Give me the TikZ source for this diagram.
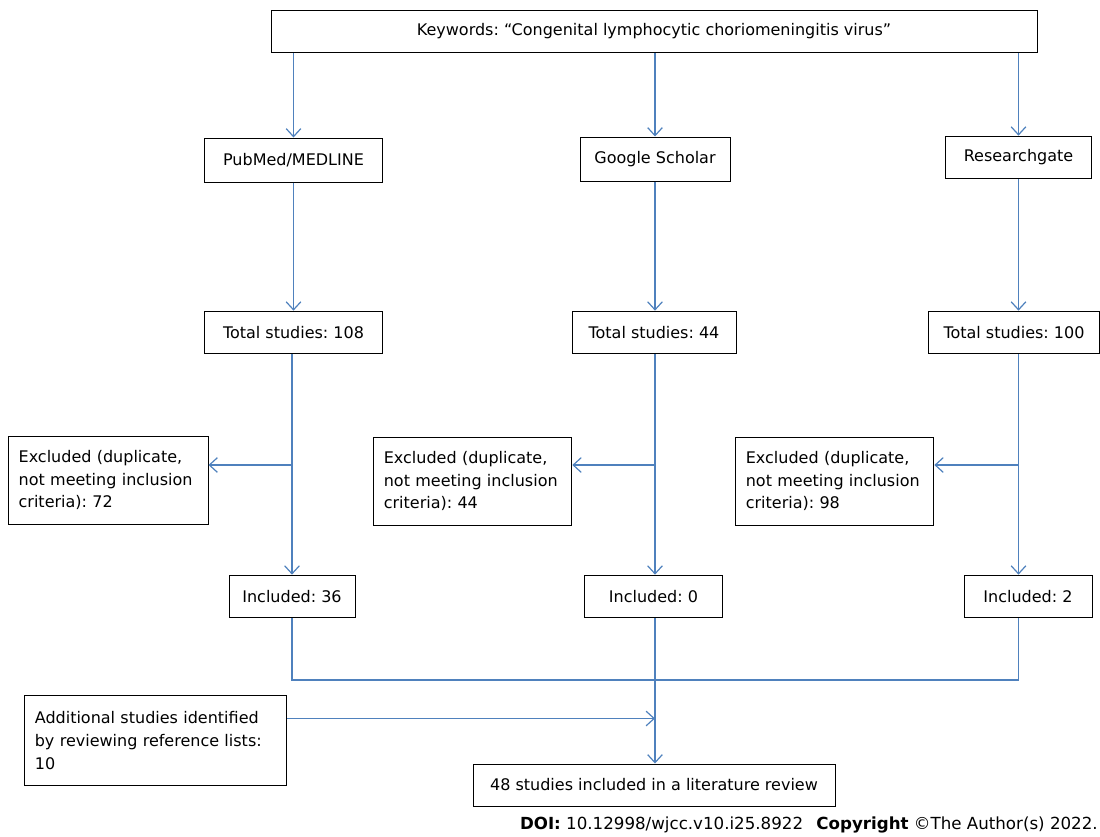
\documentclass[tikz,border=0pt]{standalone}
\usepackage{fontspec}
\setmainfont{DejaVu Sans}
\frenchspacing
\usetikzlibrary{arrows.meta}
\definecolor{flowblue}{RGB}{79,129,189}
\tikzset{box/.style = {draw, line width=0.75pt, inner sep=0pt, align=center, font=\fontsize{12}{17}\selectfont}}
\tikzset{exbox/.style = {box, align=left, inner xsep=8pt, minimum height=66pt}}
\tikzset{edge/.style = {->, draw=flowblue, line width=0.9pt, > = {Straight Barb[length=6pt,width=11pt]}}}
\tikzset{link/.style = {draw=flowblue, line width=0.9pt}}

\begin{document}
\begin{tikzpicture}[x=0.75pt,y=-0.75pt]
		\useasboundingbox (0,0) rectangle (1100,836);
		% search
		\node[box, minimum width=574.5pt, minimum height=31.5pt] (kw) at (654,31.5) {Keywords: “Congenital lymphocytic choriomeningitis virus”};

		% databases
		\node[box, minimum width=134pt, minimum height=33pt] (pub) at (293.5,160) {PubMed/MEDLINE};
		\node[box, minimum width=112.5pt, minimum height=33pt] (gs) at (655,159) {Google Scholar};
		\node[box, minimum width=110pt, minimum height=32pt] (rg) at (1018.5,157.5) {Researchgate};

		% totals
		\node[box, minimum width=134pt, minimum height=32pt] (tot1) at (293.5,332.5) {Total studies: 108};
		\node[box, minimum width=123pt, minimum height=32pt] (tot2) at (654,332.5) {Total studies: 44};
		\node[box, minimum width=128pt, minimum height=32pt] (tot3) at (1014,332.5) {Total studies: 100};

		% excluded
		\node[exbox, text width=134pt] (ex1) at (108,480) {Excluded (duplicate,\\not meeting inclusion\\criteria): 72};
		\node[exbox, text width=133pt] (ex2) at (472.5,481) {Excluded (duplicate,\\not meeting inclusion\\criteria): 44};
		\node[exbox, text width=133pt] (ex3) at (834.5,481) {Excluded (duplicate,\\not meeting inclusion\\criteria): 98};

		% included
		\node[box, minimum width=94.5pt, minimum height=32pt] (inc1) at (292,596.5) {Included: 36};
		\node[box, minimum width=103pt, minimum height=32pt] (inc2) at (653.5,596.5) {Included: 0};
		\node[box, minimum width=96pt, minimum height=32pt] (inc3) at (1028,596.5) {Included: 2};

		% extra and result
		\node[exbox, text width=181pt, minimum height=67pt] (add) at (155.5,740.5) {Additional studies identified\\by reviewing reference lists:\\10};
		\node[box, minimum width=271.5pt, minimum height=31.5pt] (fin) at (654,785) {48 studies included in a literature review};
		\coordinate (merge) at (655,680);

		% edges
		\draw[edge] (kw.south -| pub.south) -- (pub.north);
		\draw[edge] (kw.south -| gs.south) -- (gs.north);
		\draw[edge] (kw.south -| rg.south) -- (rg.north);
		\draw[edge] (pub.south) -- (pub.south |- tot1.north);
		\draw[edge] (gs.south) -- (gs.south |- tot2.north);
		\draw[edge] (rg.south) -- (rg.south |- tot3.north);
		\draw[edge] (tot1.south -| inc1.north) -- (inc1.north);
		\draw[edge] (tot2.south -| gs.south) -- (gs.south |- inc2.north);
		\draw[edge] (tot3.south -| rg.south) -- (rg.south |- inc3.north);
		\draw[edge] ([yshift=11.25pt]ex1.east -| inc1.north) -- ([yshift=11.25pt]ex1.east);
		\draw[edge] ([yshift=12pt]ex2.east -| gs.south) -- ([yshift=12pt]ex2.east);
		\draw[edge] ([yshift=12pt]ex3.east -| rg.south) -- ([yshift=12pt]ex3.east);
		\draw[link] (inc1.south) |- (rg.south |- merge) -- (rg.south |- inc3.south);
		\draw[edge] (inc2.south -| merge) -- (merge |- fin.north);
		\draw[edge] ([yshift=16.5pt]add.east) -- ([yshift=16.5pt]add.east -| merge);

		% source line
		\node[anchor=base east, inner sep=0pt, font=\fontsize{12.5}{14}\selectfont] (doi) at (1098,829) {\textbf{DOI:} 10.12998/wjcc.v10.i25.8922\hspace{0.8em}\textbf{Copyright} ©The Author(s) 2022.};
	\end{tikzpicture}
\end{document}
